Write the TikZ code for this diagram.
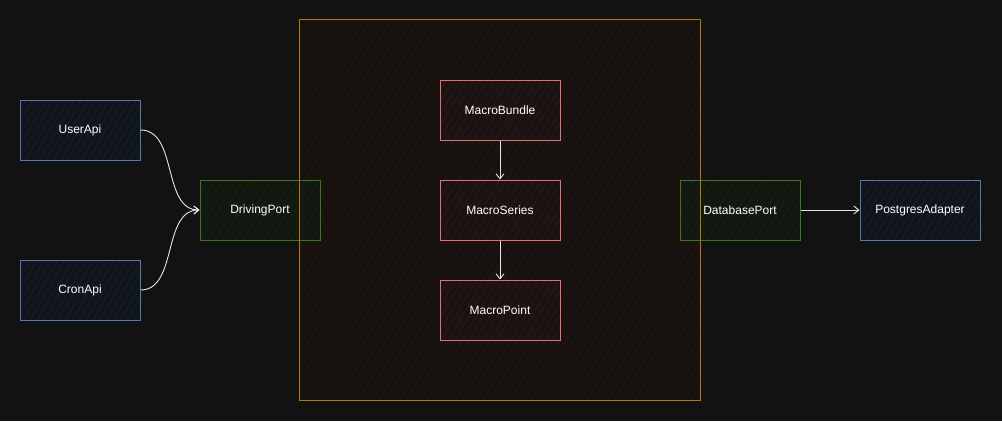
\documentclass[tikz,border=0pt]{standalone}
\usepackage{fontspec}
\setmainfont{Liberation Sans}
\usetikzlibrary{arrows.meta,patterns.meta}
\definecolor{bg}{HTML}{121212}
\definecolor{bluestroke}{HTML}{5677AC}
\definecolor{bluefill}{HTML}{10151D}
\definecolor{greenstroke}{HTML}{3D761E}
\definecolor{greenfill}{HTML}{111811}
\definecolor{redstroke}{HTML}{E07272}
\definecolor{redfill}{HTML}{1C1212}
\definecolor{orangestroke}{HTML}{BD7210}
\definecolor{orangefill}{HTML}{171210}
\definecolor{edgecol}{HTML}{E6E6E6}
\begin{document}
\begin{tikzpicture}[x=1pt,y=-1pt,
  every node/.style={font=\fontsize{12}{14}\selectfont, text=white},
  box/.style={minimum width=120pt, minimum height=60pt, inner sep=0pt, line width=1pt},
  shade2/.style n args={2}{preaction={fill=#1}, preaction={pattern={Lines[angle=60,distance=6pt,line width=0.4pt]}, pattern color=#2}},
  bluebox/.style={box, draw=bluestroke, shade2={bluefill}{bluestroke!18!bluefill}},
  greenbox/.style={box, draw=greenstroke, shade2={greenfill}{greenstroke!18!greenfill}},
  redbox/.style={box, draw=redstroke, shade2={redfill}{redstroke!14!redfill}},
  conn/.style={draw=edgecol, line width=0.9pt, -{Straight Barb[length=5pt,width=8pt]}}
]
\fill[bg] (0,0) rectangle (1002,421);
\useasboundingbox (0,0) rectangle (1002,421);

\node[line width=1pt, minimum width=400pt, minimum height=380pt, inner sep=0pt,
  shade2={orangefill}{orangestroke!10!orangefill}] (core) at (500,210) {};

\node[bluebox] (user) at (80,130) {UserApi};
\node[bluebox] (cron) at (80,290) {CronApi};
\node[greenbox] (driving) at (260,210) {DrivingPort};
\node[redbox] (bundle) at (500,110) {MacroBundle};
\node[redbox] (series) at (500,210) {MacroSeries};
\node[redbox] (point) at (500,310) {MacroPoint};
\node[greenbox] (dbport) at (740,210) {DatabasePort};
\node[bluebox] (pg) at (920,210) {PostgresAdapter};

\draw[orangestroke, line width=1pt] (core.north west) rectangle (core.south east);

\draw[conn] (user.east) .. controls (178,130) and (162,210) .. (driving.west);
\draw[conn] (cron.east) .. controls (178,290) and (162,210) .. (driving.west);
\draw[conn] (bundle.south) -- (series.north);
\draw[conn] (series.south) -- (point.north);
\draw[conn] (dbport.east) -- (pg.west);
\end{tikzpicture}
\end{document}
